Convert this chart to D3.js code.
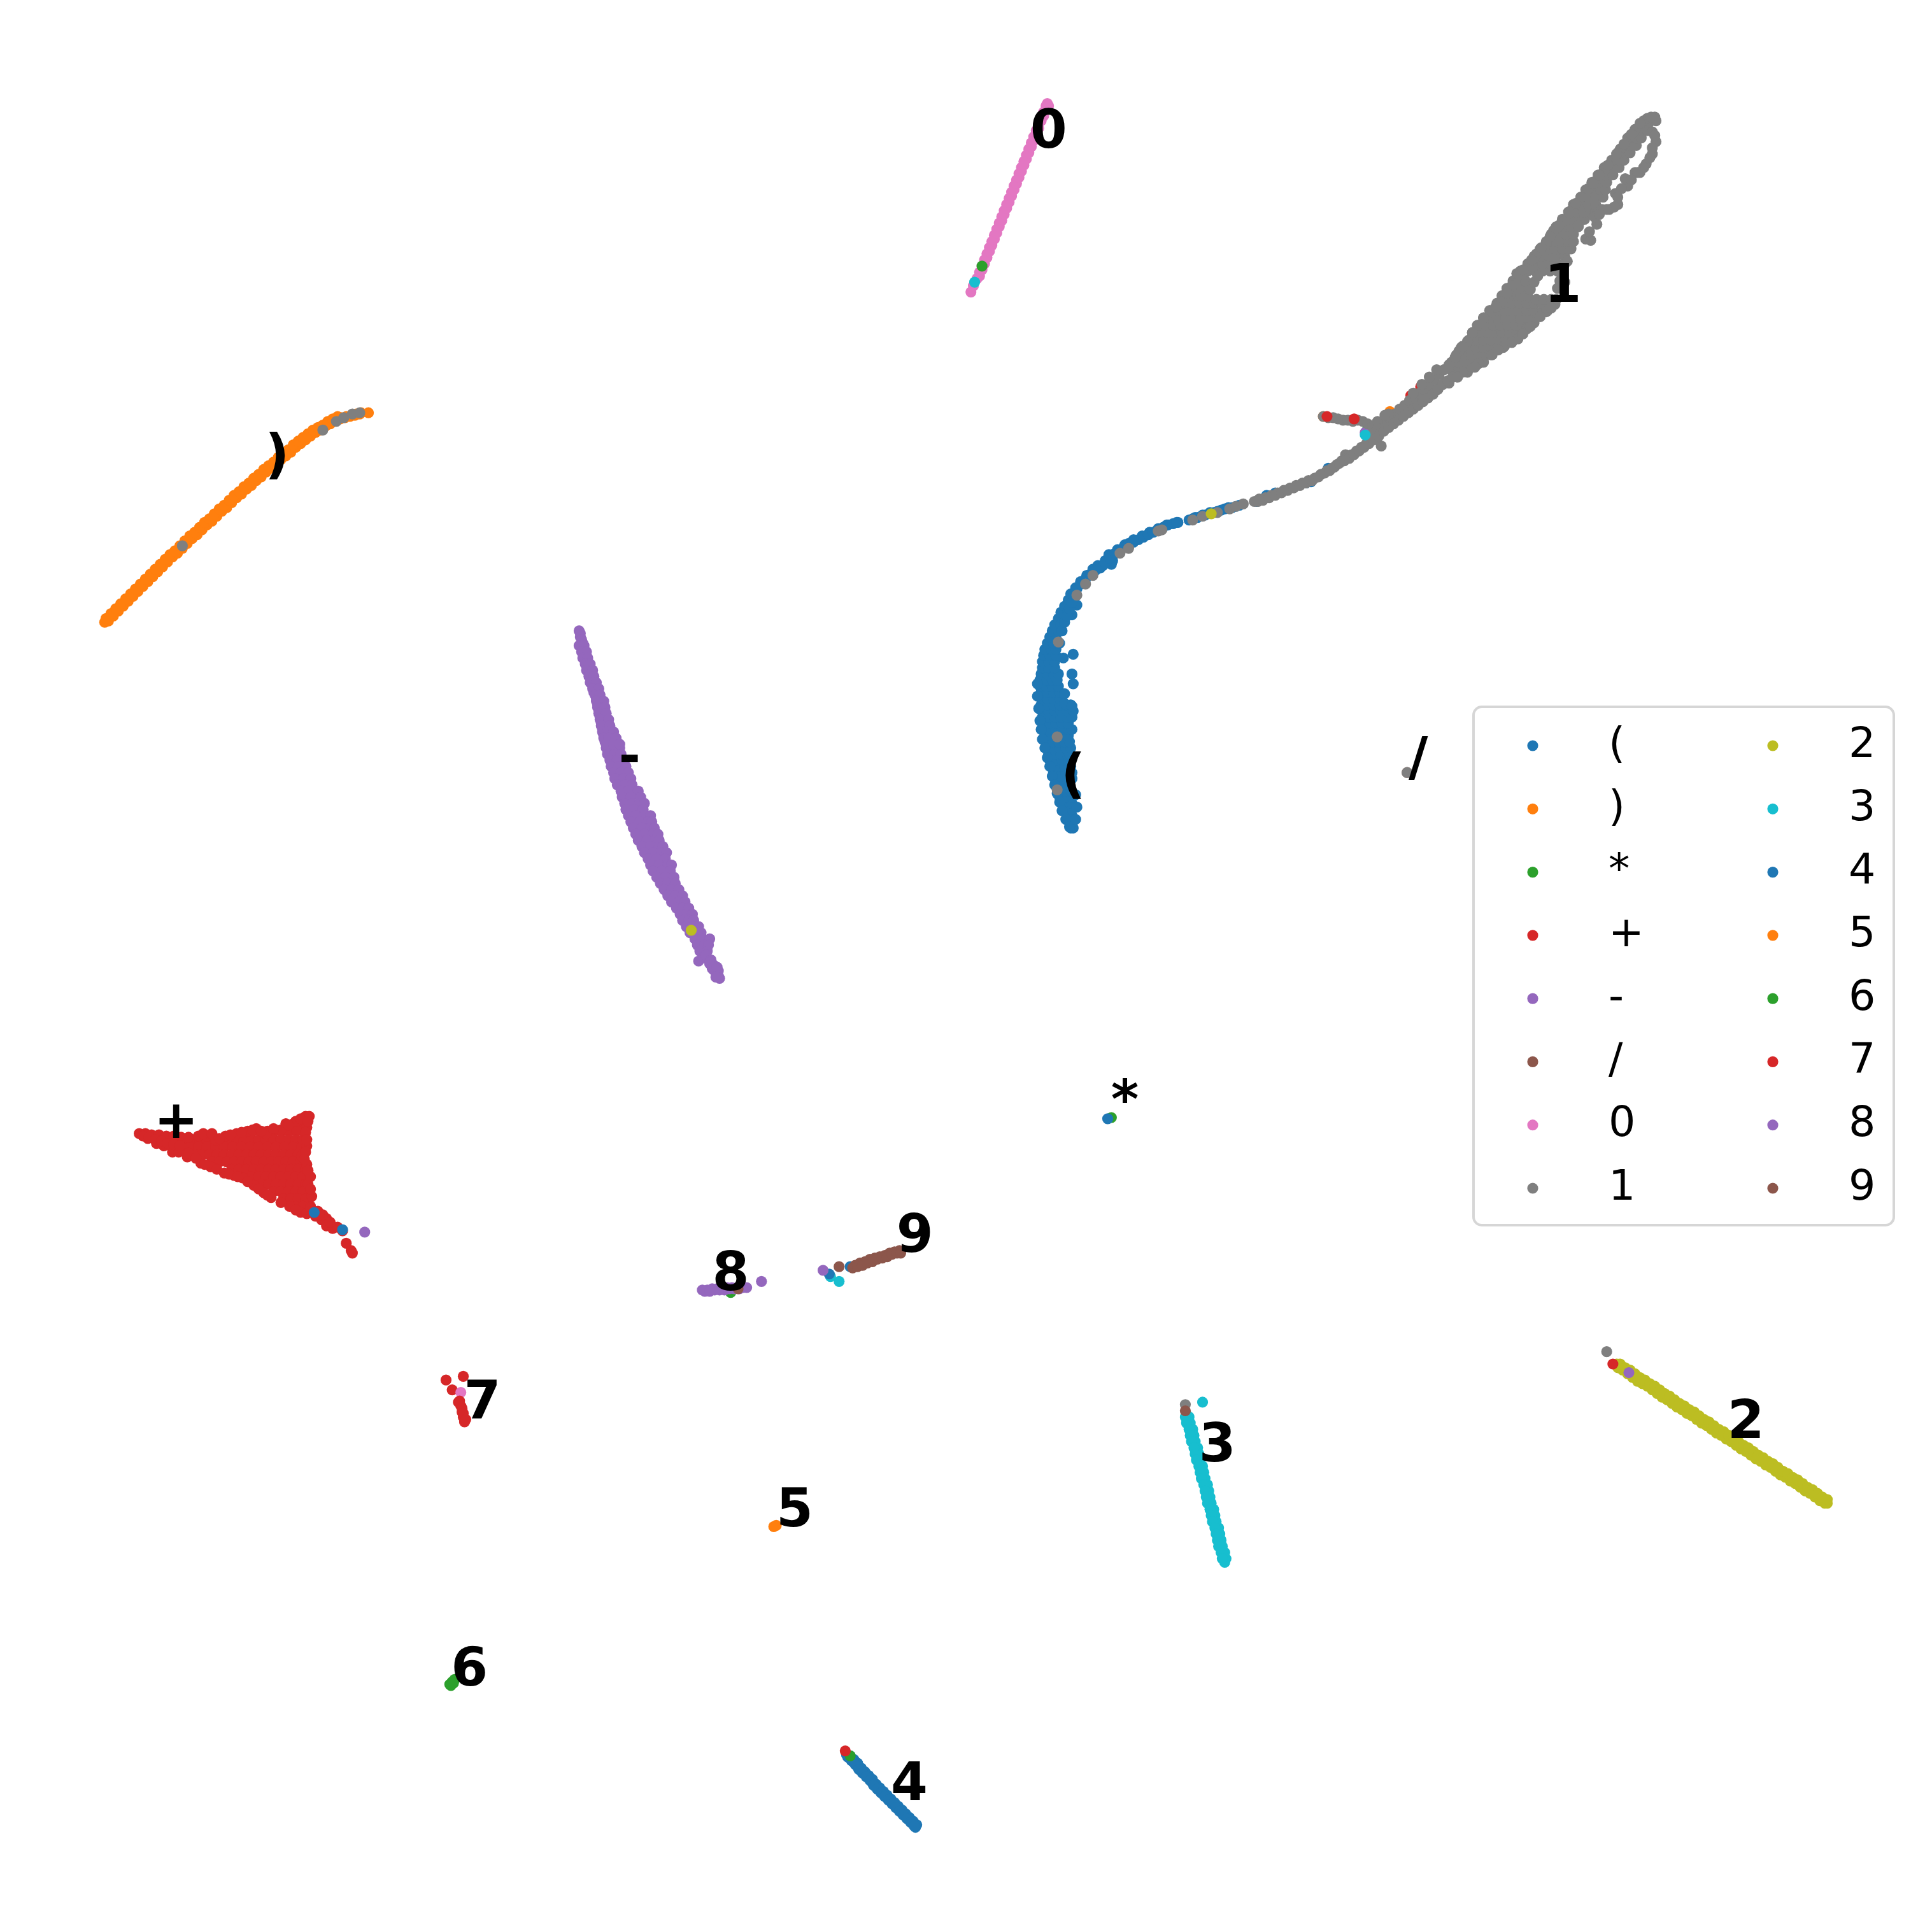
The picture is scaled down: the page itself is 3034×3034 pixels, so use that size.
<!DOCTYPE html>
<html>
<head>
<meta charset="utf-8">
<script src="https://cdn.jsdelivr.net/npm/d3@7"></script>
<style>
html, body { margin: 0; padding: 0; background: #fff; }
svg { display: block; }
text { font-family: "DejaVu Sans"; fill: #000; }
</style>
</head>
<body>
<svg id="chart" width="3034" height="3034"></svg>
<script>
var classes = ["(", ")", "*", "+", "-", "/", "0", "1", "2", "3", "4", "5", "6", "7", "8", "9"];
var colors = ["#1f77b4", "#ff7f0e", "#2ca02c", "#d62728", "#9467bd", "#8c564b", "#e377c2", "#7f7f7f",
  "#bcbd22", "#17becf", "#1f77b4", "#ff7f0e", "#2ca02c", "#d62728", "#9467bd", "#8c564b"];

// label spots, same order as classes
var labelX = [871, 225, 913, 143, 511, 1151, 851, 1268.5, 1417, 988, 738, 645, 381, 391.5, 593, 742.5];
var labelY = [643, 383.5, 907, 923.5, 628, 629, 120, 245, 1167, 1186, 1461, 1239, 1368, 1151.6, 1047, 1016];

// dense parts are kept as rows: [y, x, x, x ...]
var openRows = [[672,869,871],[667,868,870],[662,866,870],[657,864,870],[652,862,867,870],[647,860,865,870],[642,859,864,869],
  [637,858,863,868],[632,856,861,866,870],[627,855,860,865,870],[622,854,859,864,869],[617,852,857,862,867],[612,851,856,861,866,868],
  [607,850,855,860,865,869],[602,849,854,859,864,868],[597,848,853,858,863,867],[592,847,852,857,862,867,870],[587,847,852,857,862,867],
  [582,846,851,856,861,866,870],[577,846,851,856,861,866,871],[572,845,850,855,860,865,869],[567,845,850,855,860],[562,845,850,855,860],
  [557,844,849,854,859],[552,844,849,854,858],[547,845,850,855,859],[542,846,851,856],[537,846,851,856],[532,847,852,857],[527,848,853,857],
  [522,850,855,860],[517,852,857],[512,854,859],[507,856],[502,859],[497,861],[492,864],[487,867,871],[482,869],[477,873],[472,877],[467,882],
  [462,887],[459,891,895],[455,897,903],[450,900,903],[446,907],[442,913,916],[438,920],[435,927],[432,933],[429,940],[426,947],[424,956]];
var openExtra = [[871,531],[863,534],[870,547],[871,555],[864,563],[864,571],[870,573],[870,499],[874,491],[902,458],
  [965,422],[970,420],[976,418],[982,416],[988,415],[994,413],[1000,412],[1006,410],[1020,407],[1028,402],[1035,400],[1060,392],[1064,391],[1078,380],
  [871,484],[874,478],[877,474],[881,470],[885,466],[889,463],[893,461],[897,457],[901,453],[905,449],[909,447],[912,444],[916,441],[920,440],[924,438],[928,436],
  [932,434],[936,432],[940,430],[944,428],[948,426],[952,425],[955,424],[968,421],[972,420],[978,418],[985,416],[991,414],[997,412],[1003,411],
  [865,492],[867,497],[861,507],[862,512],[864,505],[866,500],[868,494],[870,489],
  [842,555],[842,565],[843,575],[844,585],[845,592],[846,600],[848,607],[850,615],[852,622],[854,630],[856,637],[858,644],[860,651],[862,658],[865,665],[868,671],[873,665],[874,655],[873,645]];

var closeLine = [[85,505],[89,501],[93,497],[97,493],[101,489],[105,485],[109,481],[113,477],[117,473],[121,469],[125,465],[129,461],[133,457],
  [137,453],[141,450],[145,446],[149,442],[153,438],[157,435],[161,431],[165,427],[169,424],[173,420],[177,416],[181,413],[185,409],[189,405],
  [193,402],[197,398],[201,395],[205,391],[209,388],[213,384],[217,381],[221,378],[225,374],[229,371],[233,368],[237,364],[241,361],[245,358],
  [249,355],[253,352],[257,350],[261,347],[265,345],[269,343],[273,341],[277,339],[281,338],[285,337],[289,336],[293,335],[299,335],[1074,338],[1128,334]];
var closeLine2 = [[88,504],[92,500],[96,496],[100,492],[104,488],[108,484],[112,480],[116,476],[120,472],[124,468],[128,464],[132,460],[136,456],[140,452],[144,449],[148,445],
  [152,441],[156,437],[160,434],[164,430],[168,426],[172,423],[176,419],[180,415],[184,412],[188,408],[192,404],[196,401],[200,397],[204,394],[208,390],[212,387],[216,383],
  [220,380],[224,377],[228,373],[232,370],[236,367],[240,363],[244,360],[248,357],[252,354],[256,351],[260,349],[264,346],[268,344],[272,342],[276,340],[280,339],[284,338],[288,337],[292,336]];
var closeLine3 = [[86,502],[90,498],[94,494],[98,490],[102,486],[106,482],[110,478],[114,474],[118,470],[122,466],[126,462],[130,458],[134,454],[138,450],[142,447],[146,443],[150,439],
  [154,435],[158,432],[162,428],[166,424],[170,421],[174,417],[178,413],[182,410],[186,406],[190,402],[194,399],[198,395],[202,392],[206,388],[210,385],[214,381],[218,378],[222,375],
  [226,371],[230,368],[234,365],[238,361],[242,358],[246,355],[250,352],[254,349],[258,347],[262,345],[266,342],[270,340],[274,338]];

var starPts = [[902,907],[1110,348],[593,1049]];

var plusRows = [[912,232,238,244],[918,205,211,217,223,229,235,241],[925,150,156,162,168,174,180,186,192,198,204,210,216,222,228,234,240,246],
  [931,140,147,154,161,168,175,182,189,196,203,210,217,224,231,238,245],[937,158,164,170,176,182,188,194,200,206,212,218,224,230,236,242],
  [943,172,178,184,190,196,202,208,214,220,226,232,238,244],[949,188,194,200,206,212,218,224,230,236,242,248],
  [955,204,210,216,222,228,234,240,246],[961,212,218,224,230,236,242,248],[967,222,228,234,240,246],[973,230,236,242,248],[979,240,246,252],
  [927,138,145]];
var plusEdge = [[113,920],[118,920],[123,921],[129,921],[135,922],[141,922],[147,923],[153,923],[161,922],[168,922],[175,925],[183,922],[192,920],
  [201,918],[208,916],[216,920],[228,917],[240,910],[248,906],[251,906],[249,915],[248,919],[249,930],[245,938],[249,945],[252,955],[250,961],[253,971],
  [120,924],[127,928],[133,930],[140,935],[145,935],[152,939],[163,944],[171,947],[182,952],[190,954],[197,956],[206,962],[214,968],[220,972],[235,979],
  [244,984],[249,985],[252,980],[258,983],[256,987],[261,990],[265,989],[265,995],[270,997],[274,996],[278,999],[281,1009],[285,1015],[286,1017],
  [116,922],[121,923],[126,925],[131,926],[136,928],[141,929],[146,930],[153,936],[159,940],[166,945],[176,949],[186,953],[193,955],[201,959],[210,965],[217,970],[228,976],[240,982],
  [165,920],[172,920],[178,924],[187,921],[196,919],[205,917],[212,918],[222,916],[234,913],[244,908],[250,910],[249,925],[248,935],[247,941],[250,950],[252,965],
  [268,992],[262,986],[259,986],[367,1128],[1153,314],[1145,321]];

var minusRows = [[512,470],[517,471],[522,472,473],[527,473,474],[532,474,475],[537,475,477],[542,477,478],[547,478,480],[552,480,482],[557,481,483],
  [562,482,485],[567,484,487],[572,485,489],[577,486,490],[582,487,491],[587,488,493],[592,489,494],[597,490,497],[602,491,499],[607,492,497,503],
  [612,493,499,504],[617,495,501,506],[622,496,502,508],[627,498,504,510],[632,499,506,512],[637,501,507,513],[642,504,510,518],[647,505,512,520],
  [652,507,513,519,523],[657,508,515,522],[662,510,516,523,528],[667,512,519,526,529],[672,514,521,528,531],[677,516,523,530,534],[682,518,525,532,535],
  [687,521,528,535,538],[692,523,530,537,541],[697,526,533,540],[702,528,535,542,545],[707,530,537,544],[712,533,540,547],[717,536,542,548],
  [722,539,545,551],[727,542,548,554],[732,545,551,556],[737,549,554,559],[742,552,557,562],[747,554,559,563],[752,557,562,567],[757,560,566,569],
  [762,564,570,576],[767,566,572,575],[772,568,574],[777,571],[782,576],[787,579],[792,582],[794,584],
  [514,471],[519,472],[524,470,474],[529,472,476],[534,473,477],[539,475,479],[544,476,481],[549,478,482],[554,479,484],[559,481,486],[564,483,487],[569,484,490],
  [574,485,491],[579,486,492],[584,487,494],[589,488,495],[594,489,493,498],[599,490,494,500],[604,492,498,503]];
var minusExtra = [[567,780],[1108,351],[573,775],[577,779],[579,783],[580,787],[581,790],[576,781],[578,786],[583,788],[582,785],[583,792],[581,793]];

var slashPts = [[1142,627]];
var zeroLine = [[788,237],[790,232],[793,226],[795,221],[797,216],[799,211],[801,206],[803,201],[805,196],[807,191],[809,186],[811,181],[813,176],[815,171],
  [817,166],[819,161],[821,156],[823,151],[825,146],[827,141],[829,136],[831,131],[833,126],[835,121],[837,116],[839,111],[841,106],[843,100],[845,96],
  [847,91],[849,86],[850,84],[374,1130],
  [795,224],[797,219],[799,214],[801,209],[803,204],[805,199],[807,194],[809,189],[811,184],[813,179],[815,174],[817,169],[819,164],[821,159],[823,154],[825,149],
  [827,144],[829,139],[831,134],[833,129],[835,124],[837,119],[839,114],[841,109],[843,104],[845,98],[847,94],[849,89],[851,86]];

// the long band of "1", bottom left to top right
var oneRows = [[300,1172,1178,1184,1190],[294,1178,1184,1190,1196,1202],[288,1182,1188,1194,1200,1206,1210],[282,1186,1192,1198,1204,1210,1216,1220],
  [276,1192,1198,1204,1210,1216,1222,1228],[270,1195,1201,1207,1213,1219,1225,1231,1236],[264,1200,1206,1212,1218,1224,1230,1236,1240],
  [258,1204,1210,1216,1222,1228,1234,1240,1246],[252,1209,1215,1221,1227,1233,1239,1245,1252,1256],[246,1215,1221,1227,1233,1239,1245,1251,1257,1261],
  [243,1247,1253,1259,1263],[240,1219,1225,1232,1234,1240],[234,1223,1229,1235,1240,1264],[228,1228,1233,1238,1266],[222,1231,1237,1267],
  [220,1234,1240,1246,1252,1258,1264,1268],[214,1240,1246,1252,1258,1264,1270],[208,1245,1251,1257,1263,1270],[202,1250,1256,1262,1268,1275],
  [196,1255,1261,1267,1273,1277],[190,1259,1265,1271,1277],[184,1263,1269,1275,1281],[178,1268,1274,1280,1286],[172,1273,1279,1285,1291,1295],
  [166,1277,1283,1289,1295],[160,1283,1289,1295,1301],[154,1287,1293,1299,1303],[148,1292,1298,1304],[142,1297,1303,1309],[136,1302,1308,1314],
  [130,1308,1314,1318],[124,1313,1319,1323],[118,1318,1324,1328],[112,1322,1328,1332],[106,1327,1333,1337],[100,1332,1338],[96,1337,1342]];
var oneLine = [[859,521],[858,598],[858,641],[874,483],[881,474],[887,467],[909,449],[916,445],[940,431],[943,430],[968,422],[976,419],[988,416],[998,413],[1003,411],[1009,409],
  [1018,407],[1022,405],[1027,404],[1032,402],[1037,400],[1042,398],[1047,396],[1052,394],[1057,392],[1062,390],[1067,388],[1072,385],[1077,382],[1081,380],[1085,377],
  [1089,374],[1092,369],[1093,372],[1097,369],[1101,366],[1105,363],[1109,360],[1113,357],[1117,354],[1121,350],[1125,347],[1129,344],[1133,341],[1137,338],[1141,335],
  [1145,332],[1149,329],[1153,326],[1157,323],[1161,320],[1165,317],[1169,313],[1173,310],[1120,345],[1124,342],[1128,339],[1132,336],[1136,332],[1140,329],[1144,325],
  [1148,322],[1152,319],[1156,316],[1160,312],[1164,308],[1168,304],[1172,300],[1176,296],[1121,362],
  [1184,285],[1191,277],[1199,264],[1210,253],[1219,245],[1227,232],[1240,215],[1255,197],[1261,187],[1270,179],[1283,160],[1296,146],[1309,130],[1321,112],[1334,98],[1343,95],[1344,98],
  [1176,311],[1191,302],[1204,294],[1221,281],[1232,275],[1239,267],[1245,262],[1255,253],[1262,247],[1270,229],[1272,212],
  [1287,194],[1291,195],[1290,188],[1296,182],[1294,176],[1281,183],[1300,170],[1306,170],[1313,166],[1311,157],[1321,151],[1319,145],[1327,140],[1331,140],[1336,133],[1341,125],[1344,115],[1341,107],
  [1074,338],[1078,339],[1082,339],[1086,340],[1090,341],[1094,341],[1098,342],[1102,341],[1106,342],[1110,344],[1114,346],[1118,342],[1118,348],[1114,352],
  [148,443],[262,349],[273,342],[279,339],[286,336],[292,335],[1304,1097],[962,1140],[1142,627]];
var oneLine2 = [[1021,407],[1025,406],[1030,404],[1035,402],[1040,400],[1045,398],[1050,396],[1055,394],[1060,392],[1065,390],[1070,387],[1075,384],[1079,382],[1083,379],[1087,376],
  [1091,374],[1095,372],[1099,369],[1103,366],[1107,363],[1111,360],[1115,357],[1119,354],[1123,350],[1127,347],[1131,344],[1135,341],[1139,338],[1143,335],[1147,332],[1151,329],
  [1155,326],[1159,323],[1163,320],[1167,316],[1171,312],[1175,309],[1179,306],[1183,304],[1187,302],[1195,298],[1200,295],
  [1181,290],[1187,281],[1195,270],[1204,258],[1214,249],[1223,238],[1233,223],[1247,206],[1258,192],[1265,183],[1276,170],[1289,153],[1302,138],[1315,121],[1327,105],[1338,96],[1340,95],
  [1236,219],[1243,211],[1251,201],[1274,173],[1279,165],[1293,149],[1298,142],[1305,134],[1312,125],[1318,117],[1324,109],[1331,100],
  [1341,120],[1343,110],[1339,128],[1334,136],[1329,140],[1324,146],[1316,153],[1313,160],[1310,168],[1304,170],[1298,174],
  [1183,306],[1197,298],[1211,288],[1216,284],[1227,278],[1236,271],[1242,265],[1250,257],[1259,250],
  [1127,336],[1124,337],[1147,319],[1154,312],[1160,306],[1166,300],[1242,235],[1245,229],[1248,224]];

var twoLine = [[1312,1107],[1316,1110],[1320,1112],[1324,1115],[1328,1118],[1332,1120],[1336,1123],[1340,1125],[1344,1128],[1348,1131],[1352,1133],[1356,1136],[1360,1139],[1364,1141],
  [1368,1144],[1372,1146],[1376,1149],[1380,1152],[1384,1154],[1388,1157],[1392,1160],[1396,1162],[1400,1165],[1404,1167],[1408,1170],[1412,1173],[1416,1175],[1420,1178],[1424,1181],
  [1428,1183],[1432,1186],[1436,1188],[1440,1191],[1444,1194],[1448,1196],[1452,1199],[1456,1201],[1460,1204],[1464,1207],[1468,1209],[1472,1212],[1476,1215],[1480,1217],[1483,1220],
  [561,755],[983,417],
  [1313,1110],[1317,1112],[1321,1115],[1325,1118],[1329,1121],[1333,1123],[1337,1125],[1341,1128],[1345,1131],[1349,1134],[1353,1136],[1357,1139],[1361,1142],[1365,1144],[1369,1147],
  [1373,1149],[1377,1152],[1381,1155],[1385,1157],[1389,1160],[1393,1163],[1397,1165],[1401,1168],[1405,1170],[1409,1173],[1413,1176],[1417,1178],[1421,1181],[1425,1184],[1429,1186],
  [1433,1189],[1437,1191],[1441,1194],[1445,1197],[1449,1199],[1453,1202],[1457,1204],[1461,1207],[1465,1210],[1469,1212],[1473,1215],[1477,1218],[1481,1220],
  [1315,1107],[1319,1110],[1323,1112],[1327,1115],[1331,1118],[1335,1120],[1339,1123],[1343,1125],[1347,1128],[1351,1131],[1355,1133],[1359,1136],[1363,1139],[1367,1141],[1371,1144],
  [1375,1146],[1379,1149],[1383,1152],[1387,1154],[1391,1157],[1395,1160],[1399,1162],[1403,1165],[1407,1167],[1411,1170],[1415,1173],[1419,1175],[1423,1178],[1427,1181],[1431,1183],
  [1435,1186],[1439,1188],[1443,1191],[1447,1194],[1451,1196],[1455,1199],[1459,1201],[1463,1204],[1467,1207],[1471,1209],[1475,1212],[1479,1215],[1483,1217]];
var threeLine = [[963,1148],[964,1153],[966,1158],[967,1163],[968,1168],[970,1173],[971,1178],[972,1183],[974,1188],[975,1193],[976,1198],[978,1203],[979,1208],[980,1213],[981,1218],
  [983,1223],[984,1228],[985,1233],[987,1238],[988,1243],[989,1248],[990,1253],[992,1258],[993,1263],[994,1268],[976,1138],[791,229],[1108,353],[681,1040],[674,1036],
  [965,1150],[966,1155],[968,1160],[969,1165],[970,1170],[972,1175],[973,1180],[974,1185],[976,1190],[977,1195],[978,1200],[980,1205],[981,1210],[982,1215],[983,1220],[985,1225],
  [986,1230],[987,1235],[989,1240],[990,1245],[991,1250],[992,1255],[994,1260],[995,1265],
  [962,1150],[963,1155],[965,1160],[966,1165],[967,1170],[969,1175],[970,1180],[971,1185],[973,1190],[974,1195],[975,1200],[977,1205],[978,1210],[979,1215],[980,1220],[982,1225],
  [983,1230],[984,1235],[986,1240],[987,1245],[988,1250],[989,1255],[991,1260],[992,1265]];
var fourLine = [[687,1424],[690,1427],[693,1430],[696,1434],[699,1437],[702,1440],[705,1443],[708,1447],[711,1450],[714,1453],[717,1456],[720,1459],[723,1462],[726,1465],[729,1468],
  [732,1471],[735,1474],[738,1477],[741,1480],[743,1483],[899,908],[255,984],[278,998],[690,1028],[673,1034],
  [690,1425],[693,1428],[696,1431],[699,1435],[702,1438],[705,1441],[708,1444],[711,1448],[714,1451],[717,1454],[720,1457],[723,1460],[726,1463],[729,1466],[732,1469],[735,1472],[738,1475],[741,1478],[744,1481],
  [688,1426],[691,1429],[694,1432],[697,1436],[700,1439],[703,1442],[706,1445],[709,1449],[712,1452],[715,1455],[718,1458],[721,1461],[724,1464],[727,1467],[730,1470],[733,1473],[736,1476],[739,1479],[742,1482]];
var fivePts = [[628,1239],[630,1238]];
var sixPts = [[365,1367],[367,1365],[369,1363],[366,1368],[368,1366],[797,216],[690,1425]];
var sevenPts = [[376,1117],[362,1120],[373,1137],[374,1141],[375,1146],[376,1150],[377,1154],[372,1138],[375,1143],[376,1147],[378,1152],[1077,338],[1099,340],[1309,1107],[686,1421]];
var eightLine = [[570,1047],[574,1047],[578,1046],[582,1046],[586,1046],[590,1045],[594,1045],[598,1045],[603,1045],[606,1045],[618,1040],[668,1031],[296,1000],[1322,1114],
  [572,1048],[576,1048],[580,1047],[584,1047],[588,1047],[592,1046],[596,1046],[600,1046]];
var nineLine = [[681,1028],[694,1027],[698,1025],[702,1024],[706,1022],[710,1021],[714,1020],[718,1019],[722,1017],[726,1016],[730,1015],[599,1046],[962,1145],
  [692,1029],[696,1028],[700,1027],[704,1025],[708,1024],[712,1022],[716,1021],[720,1020],[724,1018],[728,1017],[731,1017]];

function rows(list) {
  return list.flatMap(function (r) {
    return r.slice(1).map(function (v) { return [v, r[0]]; });
  });
}

var series = [
  rows(openRows).concat(openExtra), closeLine.concat(closeLine2, closeLine3), starPts, rows(plusRows).concat(plusEdge), rows(minusRows).concat(minusExtra), slashPts, zeroLine,
  rows(oneRows).concat(oneLine, oneLine2), twoLine, threeLine, fourLine, fivePts, sixPts, sevenPts, eightLine, nineLine
];

var svg = d3.select("#chart");
var x = d3.scaleLinear().domain([0, 1568]).range([0, 3034]);
var y = d3.scaleLinear().domain([0, 1568]).range([0, 3034]);
var dotR = 8.6;

var groups = svg.selectAll(".cls")
  .data(series)
  .enter()
  .append("g")
  .attr("class", "cls")
  .attr("fill", function (d, i) { return colors[i]; });
groups.selectAll("circle")
  .data(function (d) { return d; })
  .enter()
  .append("circle")
  .attr("cx", function (d) { return x(d[0]); })
  .attr("cy", function (d) { return y(d[1]); })
  .attr("r", dotR);

svg.selectAll(".lab")
  .data(classes)
  .enter()
  .append("text")
  .attr("class", "lab")
  .attr("x", function (d, i) { return x(labelX[i]); })
  .attr("y", function (d, i) { return y(labelY[i]); })
  .attr("text-anchor", "middle")
  .style("font-size", "83.3px")
  .style("font-weight", "bold")
  .text(function (d) { return d; });

// legend, two columns of eight
var legend = svg.append("g");
legend.append("rect")
  .attr("x", 2314).attr("y", 1110)
  .attr("width", 660).attr("height", 814)
  .attr("rx", 13).attr("ry", 13)
  .attr("fill", "#fff").attr("stroke", "#d6d6d6").attr("stroke-width", 4);
var legendY = d3.scalePoint().domain(d3.range(8)).range([1171, 1866]);
var item = legend.selectAll(".item")
  .data(classes)
  .enter()
  .append("g")
  .attr("class", "item")
  .attr("transform", function (d, i) {
    return "translate(" + (i < 8 ? 2407 : 2784) + "," + legendY(i % 8) + ")";
  });
item.append("circle")
  .attr("r", dotR)
  .attr("fill", function (d, i) { return colors[i]; });
item.append("text")
  .attr("x", 119)
  .attr("y", 17.5)
  .style("font-size", "66.67px")
  .text(function (d) { return d; });
</script>
</body>
</html>
